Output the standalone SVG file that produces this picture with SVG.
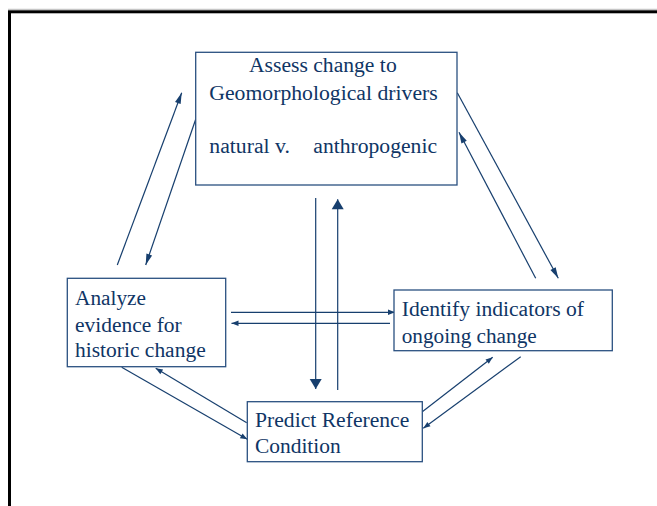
<svg xmlns="http://www.w3.org/2000/svg" width="657" height="506" viewBox="0 0 657 506">
  <style>
    .box { fill: #ffffff; stroke: #2a5080; stroke-width: 1.3; }
    .lbl { font-size: 21.3px; fill: #0f3565; }
    .conn { stroke: #173f6e; stroke-width: 1.2; fill: none; }
  </style>
  <defs>
    <marker id="big" markerUnits="userSpaceOnUse" markerWidth="14" markerHeight="14" viewBox="0 0 14 14" refX="12" refY="7" orient="auto">
      <path d="M2,1 L12,7 L2,13 Z" fill="#173f6e"/>
    </marker>
    <marker id="slim" markerUnits="userSpaceOnUse" markerWidth="14" markerHeight="10" viewBox="0 0 14 10" refX="12" refY="5" orient="auto">
      <path d="M1,2 L12,5 L1,8 Z" fill="#173f6e"/>
    </marker>
    <marker id="small" markerUnits="userSpaceOnUse" markerWidth="10" markerHeight="8" viewBox="0 0 10 8" refX="8" refY="4" orient="auto">
      <path d="M1,1.3 L8,4 L1,6.7 Z" fill="#173f6e"/>
    </marker>
  </defs>

  <rect x="0" y="0" width="657" height="506" fill="#ffffff"/>
  <!-- slide frame -->
  <line x1="8" y1="9.3" x2="657" y2="9.3" stroke="#b8b8b8" stroke-width="1"/>
  <rect x="9.5" y="11.8" width="700" height="600" fill="none" stroke="#000000" stroke-width="3"/>

  <g id="connectors">
    <!-- top <-> analyze -->
    <line class="conn" x1="117.3" y1="265" x2="181.7" y2="92.7" marker-end="url(#slim)"/>
    <line class="conn" x1="195.7" y1="119.3" x2="145.7" y2="265" marker-end="url(#slim)"/>
    <!-- top <-> identify -->
    <line class="conn" x1="457.3" y1="92.7" x2="558.3" y2="278.3" marker-end="url(#slim)"/>
    <line class="conn" x1="535.7" y1="278.3" x2="459" y2="132.3" marker-end="url(#slim)"/>
    <!-- top <-> predict -->
    <line class="conn" x1="315.7" y1="198" x2="315.7" y2="389" marker-end="url(#big)"/>
    <line class="conn" x1="337.7" y1="390" x2="337.7" y2="199.3" marker-end="url(#big)"/>
    <!-- analyze <-> identify -->
    <line class="conn" x1="231" y1="312.3" x2="395" y2="312.3" marker-end="url(#small)"/>
    <line class="conn" x1="390" y1="323.3" x2="231.5" y2="323.3" marker-end="url(#small)"/>
    <!-- analyze <-> predict -->
    <line class="conn" x1="121.7" y1="367.3" x2="247.3" y2="439.3" marker-end="url(#small)"/>
    <line class="conn" x1="246.7" y1="422.7" x2="155.7" y2="368.3" marker-end="url(#small)"/>
    <!-- identify <-> predict -->
    <line class="conn" x1="422.3" y1="411.7" x2="492.7" y2="357.3" marker-end="url(#small)"/>
    <line class="conn" x1="520.7" y1="356.7" x2="423.3" y2="428.3" marker-end="url(#small)"/>
  </g>

  <g id="assess" font-family="Liberation Serif, Times New Roman, serif">
    <rect class="box" x="195.7" y="52.3" width="261.3" height="132.7"/>
    <text class="lbl" x="249" y="72.3" textLength="147.7" lengthAdjust="spacingAndGlyphs">Assess change to</text>
    <text class="lbl" x="209.3" y="100" textLength="228.4" lengthAdjust="spacingAndGlyphs">Geomorphological drivers</text>
    <text class="lbl" x="209.3" y="152.7" textLength="80.7" lengthAdjust="spacingAndGlyphs">natural v.</text>
    <text class="lbl" x="313.3" y="152.7" textLength="123.7" lengthAdjust="spacingAndGlyphs">anthropogenic</text>
  </g>

  <g id="analyze" font-family="Liberation Serif, Times New Roman, serif">
    <rect class="box" x="67.3" y="278.3" width="158.4" height="88.4"/>
    <text class="lbl" x="75" y="305" textLength="71" lengthAdjust="spacingAndGlyphs">Analyze</text>
    <text class="lbl" x="75" y="331.7" textLength="106.7" lengthAdjust="spacingAndGlyphs">evidence for</text>
    <text class="lbl" x="75" y="357.3" textLength="130.7" lengthAdjust="spacingAndGlyphs">historic change</text>
  </g>

  <g id="identify" font-family="Liberation Serif, Times New Roman, serif">
    <rect class="box" x="394" y="290" width="218.3" height="60.7"/>
    <text class="lbl" x="401.7" y="316" textLength="182.3" lengthAdjust="spacingAndGlyphs">Identify indicators of</text>
    <text class="lbl" x="401.7" y="342.7" textLength="135" lengthAdjust="spacingAndGlyphs">ongoing change</text>
  </g>

  <g id="predict" font-family="Liberation Serif, Times New Roman, serif">
    <rect class="box" x="247.3" y="401.7" width="175" height="60"/>
    <text class="lbl" x="255" y="426.7" textLength="154.3" lengthAdjust="spacingAndGlyphs">Predict Reference</text>
    <text class="lbl" x="255" y="453.3" textLength="85.7" lengthAdjust="spacingAndGlyphs">Condition</text>
  </g>
</svg>
